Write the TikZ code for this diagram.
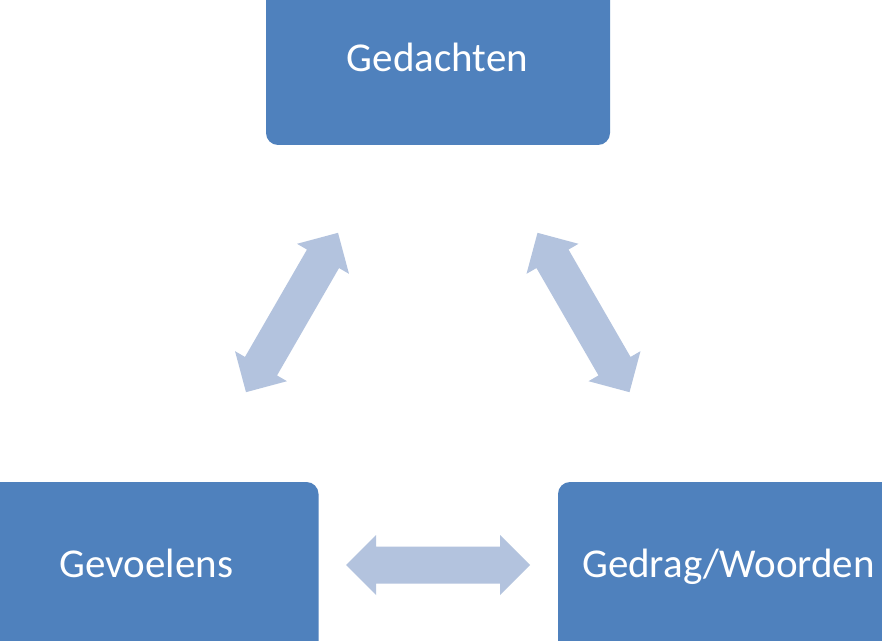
\documentclass[tikz,border=0pt]{standalone}
\usepackage{fontspec}
\setmainfont{Carlito}
\definecolor{boxblue}{HTML}{4F81BD}
\definecolor{arrowblue}{HTML}{B3C3DE}
\begin{document}
\begin{tikzpicture}[x=1pt,y=1pt,
  box/.style={fill=boxblue, draw=none, rounded corners=12pt, minimum width=344pt, minimum height=200pt, inner sep=0pt},
  label/.style={text=white, inner sep=0pt, anchor=base, font=\fontsize{41}{49}\selectfont},
  dblarrow/.style={fill=arrowblue, draw=none}]
\clip (0,0) rectangle (882,640);
\fill[white] (0,0) rectangle (882,640);
\node[box] (gedbox) at (438,595) {};
\node[box] (gevbox) at (146.5,58) {};
\node[box] (gdrbox) at (730,58) {};
\node[label] (ged) at (437.5,568) {Gedachten};
\node[label] (gev) at (146.5,63) {Gevoelens};
\node[label] (gdr) at (728.5,63) {Gedrag/Woorden};
% double-headed block arrows
\foreach \name/\cx/\cy/\ang in {la/292/327.5/60, ra/583.5/327.5/-60, ha/438/75/0}{
  \begin{scope}[shift={(\cx,\cy)}, rotate=\ang]
    \coordinate (\name) at (0,0);
    \fill[dblarrow] (-92,0) -- (-62,30) -- (-62,18.5) -- (62,18.5) -- (62,30) -- (92,0)
      -- (62,-30) -- (62,-18.5) -- (-62,-18.5) -- (-62,-30) -- cycle;
  \end{scope}
}
\end{tikzpicture}
\end{document}
